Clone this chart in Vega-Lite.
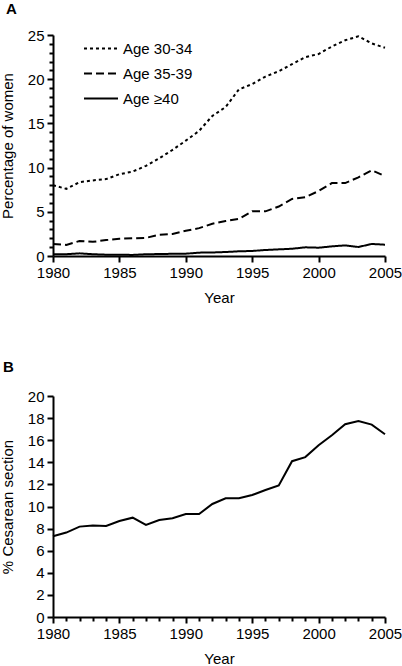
{
  "$schema": "https://vega.github.io/schema/vega-lite/v6.json",
  "background": "white",
  "padding": {"left": 0, "top": 2, "right": 2, "bottom": 2},
  "spacing": 140,
  "bounds": "flush",
  "config": {
    "view": {"stroke": null},
    "font": "Liberation Sans",
    "axis": {
      "grid": false,
      "domainColor": "black",
      "domainWidth": 2,
      "tickColor": "black",
      "tickWidth": 2,
      "tickSize": 6,
      "labelFont": "Liberation Sans",
      "labelFontSize": 15,
      "labelColor": "black",
      "labelPadding": 3,
      "labelFlush": false,
      "titleFont": "Liberation Sans",
      "titleFontSize": 15,
      "titleFontWeight": "normal",
      "titleColor": "black"
    }
  },
  "datasets": {
    "ages": [
      {"year": 1980, "group": "Age 30-34", "pct": 8.0},
      {"year": 1981, "group": "Age 30-34", "pct": 7.6},
      {"year": 1982, "group": "Age 30-34", "pct": 8.35},
      {"year": 1983, "group": "Age 30-34", "pct": 8.55},
      {"year": 1984, "group": "Age 30-34", "pct": 8.7},
      {"year": 1985, "group": "Age 30-34", "pct": 9.25},
      {"year": 1986, "group": "Age 30-34", "pct": 9.55},
      {"year": 1987, "group": "Age 30-34", "pct": 10.2},
      {"year": 1988, "group": "Age 30-34", "pct": 11.05},
      {"year": 1989, "group": "Age 30-34", "pct": 12.0},
      {"year": 1990, "group": "Age 30-34", "pct": 13.05},
      {"year": 1991, "group": "Age 30-34", "pct": 14.15},
      {"year": 1992, "group": "Age 30-34", "pct": 15.85},
      {"year": 1993, "group": "Age 30-34", "pct": 16.85},
      {"year": 1994, "group": "Age 30-34", "pct": 18.85},
      {"year": 1995, "group": "Age 30-34", "pct": 19.45},
      {"year": 1996, "group": "Age 30-34", "pct": 20.3},
      {"year": 1997, "group": "Age 30-34", "pct": 20.9},
      {"year": 1998, "group": "Age 30-34", "pct": 21.7},
      {"year": 1999, "group": "Age 30-34", "pct": 22.5},
      {"year": 2000, "group": "Age 30-34", "pct": 22.85},
      {"year": 2001, "group": "Age 30-34", "pct": 23.7},
      {"year": 2002, "group": "Age 30-34", "pct": 24.4},
      {"year": 2003, "group": "Age 30-34", "pct": 24.85},
      {"year": 2004, "group": "Age 30-34", "pct": 24.05},
      {"year": 2005, "group": "Age 30-34", "pct": 23.55},
      {"year": 1980, "group": "Age 35-39", "pct": 1.35},
      {"year": 1981, "group": "Age 35-39", "pct": 1.25},
      {"year": 1982, "group": "Age 35-39", "pct": 1.7},
      {"year": 1983, "group": "Age 35-39", "pct": 1.6},
      {"year": 1984, "group": "Age 35-39", "pct": 1.8},
      {"year": 1985, "group": "Age 35-39", "pct": 1.95},
      {"year": 1986, "group": "Age 35-39", "pct": 2.0},
      {"year": 1987, "group": "Age 35-39", "pct": 2.05},
      {"year": 1988, "group": "Age 35-39", "pct": 2.4},
      {"year": 1989, "group": "Age 35-39", "pct": 2.5},
      {"year": 1990, "group": "Age 35-39", "pct": 2.85},
      {"year": 1991, "group": "Age 35-39", "pct": 3.15},
      {"year": 1992, "group": "Age 35-39", "pct": 3.65},
      {"year": 1993, "group": "Age 35-39", "pct": 3.95},
      {"year": 1994, "group": "Age 35-39", "pct": 4.2},
      {"year": 1995, "group": "Age 35-39", "pct": 5.05},
      {"year": 1996, "group": "Age 35-39", "pct": 5.05},
      {"year": 1997, "group": "Age 35-39", "pct": 5.6},
      {"year": 1998, "group": "Age 35-39", "pct": 6.45},
      {"year": 1999, "group": "Age 35-39", "pct": 6.65},
      {"year": 2000, "group": "Age 35-39", "pct": 7.35},
      {"year": 2001, "group": "Age 35-39", "pct": 8.25},
      {"year": 2002, "group": "Age 35-39", "pct": 8.25},
      {"year": 2003, "group": "Age 35-39", "pct": 8.9},
      {"year": 2004, "group": "Age 35-39", "pct": 9.7},
      {"year": 2005, "group": "Age 35-39", "pct": 9.05},
      {"year": 1980, "group": "Age ≥40", "pct": 0.2},
      {"year": 1981, "group": "Age ≥40", "pct": 0.2},
      {"year": 1982, "group": "Age ≥40", "pct": 0.3},
      {"year": 1983, "group": "Age ≥40", "pct": 0.2},
      {"year": 1984, "group": "Age ≥40", "pct": 0.15},
      {"year": 1985, "group": "Age ≥40", "pct": 0.15},
      {"year": 1986, "group": "Age ≥40", "pct": 0.12},
      {"year": 1987, "group": "Age ≥40", "pct": 0.2},
      {"year": 1988, "group": "Age ≥40", "pct": 0.22},
      {"year": 1989, "group": "Age ≥40", "pct": 0.25},
      {"year": 1990, "group": "Age ≥40", "pct": 0.26},
      {"year": 1991, "group": "Age ≥40", "pct": 0.38},
      {"year": 1992, "group": "Age ≥40", "pct": 0.4},
      {"year": 1993, "group": "Age ≥40", "pct": 0.45},
      {"year": 1994, "group": "Age ≥40", "pct": 0.53},
      {"year": 1995, "group": "Age ≥40", "pct": 0.57},
      {"year": 1996, "group": "Age ≥40", "pct": 0.68},
      {"year": 1997, "group": "Age ≥40", "pct": 0.75},
      {"year": 1998, "group": "Age ≥40", "pct": 0.82},
      {"year": 1999, "group": "Age ≥40", "pct": 0.98},
      {"year": 2000, "group": "Age ≥40", "pct": 0.94},
      {"year": 2001, "group": "Age ≥40", "pct": 1.09},
      {"year": 2002, "group": "Age ≥40", "pct": 1.2},
      {"year": 2003, "group": "Age ≥40", "pct": 1.02},
      {"year": 2004, "group": "Age ≥40", "pct": 1.36},
      {"year": 2005, "group": "Age ≥40", "pct": 1.28}
    ],
    "cesarean": [
      {"year": 1980, "pct": 7.3},
      {"year": 1981, "pct": 7.64},
      {"year": 1982, "pct": 8.18},
      {"year": 1983, "pct": 8.27},
      {"year": 1984, "pct": 8.24},
      {"year": 1985, "pct": 8.69},
      {"year": 1986, "pct": 8.99},
      {"year": 1987, "pct": 8.33},
      {"year": 1988, "pct": 8.78},
      {"year": 1989, "pct": 8.93},
      {"year": 1990, "pct": 9.32},
      {"year": 1991, "pct": 9.32},
      {"year": 1992, "pct": 10.23},
      {"year": 1993, "pct": 10.74},
      {"year": 1994, "pct": 10.74},
      {"year": 1995, "pct": 11.04},
      {"year": 1996, "pct": 11.49},
      {"year": 1997, "pct": 11.91},
      {"year": 1998, "pct": 14.1},
      {"year": 1999, "pct": 14.47},
      {"year": 2000, "pct": 15.55},
      {"year": 2001, "pct": 16.45},
      {"year": 2002, "pct": 17.44},
      {"year": 2003, "pct": 17.74},
      {"year": 2004, "pct": 17.41},
      {"year": 2005, "pct": 16.54}
    ]
  },
  "vconcat": [
    {
      "width": 332,
      "height": 221,
      "title": {"text": "A", "anchor": "start", "frame": "group", "dx": -47, "offset": -1, "baseline": "alphabetic", "fontSize": 15, "fontWeight": "bold", "font": "Liberation Sans", "color": "black"},
      "data": {"name": "ages"},
      "mark": {"type": "line", "color": "black", "strokeWidth": 2},
      "encoding": {
        "x": {
          "field": "year", "type": "quantitative", "title": "Year",
          "scale": {"domain": [1980, 2005], "nice": false, "zero": false},
          "axis": {"values": [1980, 1985, 1990, 1995, 2000, 2005], "format": "d", "titlePadding": 10}
        },
        "y": {
          "field": "pct", "type": "quantitative", "title": "Percentage of women",
          "scale": {"domain": [0, 25], "nice": false},
          "axis": {
            "values": [0,1,2,3,4,5,6,7,8,9,10,11,12,13,14,15,16,17,18,19,20,21,22,23,24,25],
            "labelExpr": "datum.value % 5 === 0 ? datum.label : ''",
            "tickSize": {"condition": {"test": "datum.value % 5 === 0", "value": 6}, "value": 4},
            "titlePadding": 12
          }
        },
        "strokeDash": {
          "field": "group", "type": "nominal",
          "scale": {"domain": ["Age 30-34", "Age 35-39", "Age ≥40"], "range": [[3, 3], [8, 4], [1, 0]]},
          "legend": {
            "title": null, "orient": "none", "legendX": 30, "legendY": 6,
            "symbolType": "stroke", "symbolSize": 1156, "symbolStrokeWidth": 2, "symbolStrokeColor": "black",
            "clipHeight": 15, "rowPadding": 9, "labelOffset": 4, "padding": 0,
            "labelFont": "Liberation Sans", "labelFontSize": 15, "labelColor": "black"
          }
        }
      }
    },
    {
      "width": 332,
      "height": 221,
      "title": {"text": "B", "anchor": "start", "frame": "group", "dx": -50, "offset": 2, "baseline": "alphabetic", "fontSize": 15, "fontWeight": "bold", "font": "Liberation Sans", "color": "black"},
      "data": {"name": "cesarean"},
      "mark": {"type": "line", "color": "black", "strokeWidth": 2},
      "encoding": {
        "x": {
          "field": "year", "type": "quantitative", "title": "Year",
          "scale": {"domain": [1980, 2005], "nice": false, "zero": false},
          "axis": {
            "values": [1980,1981,1982,1983,1984,1985,1986,1987,1988,1989,1990,1991,1992,1993,1994,1995,1996,1997,1998,1999,2000,2001,2002,2003,2004,2005],
            "format": "d",
            "labelExpr": "datum.value % 5 === 0 ? datum.label : ''",
            "tickSize": {"condition": {"test": "datum.value % 5 === 0", "value": 6}, "value": 4},
            "titlePadding": 10
          }
        },
        "y": {
          "field": "pct", "type": "quantitative", "title": "% Cesarean section",
          "scale": {"domain": [0, 20], "nice": false},
          "axis": {"values": [0,2,4,6,8,10,12,14,16,18,20], "titlePadding": 12}
        }
      }
    }
  ]
}
